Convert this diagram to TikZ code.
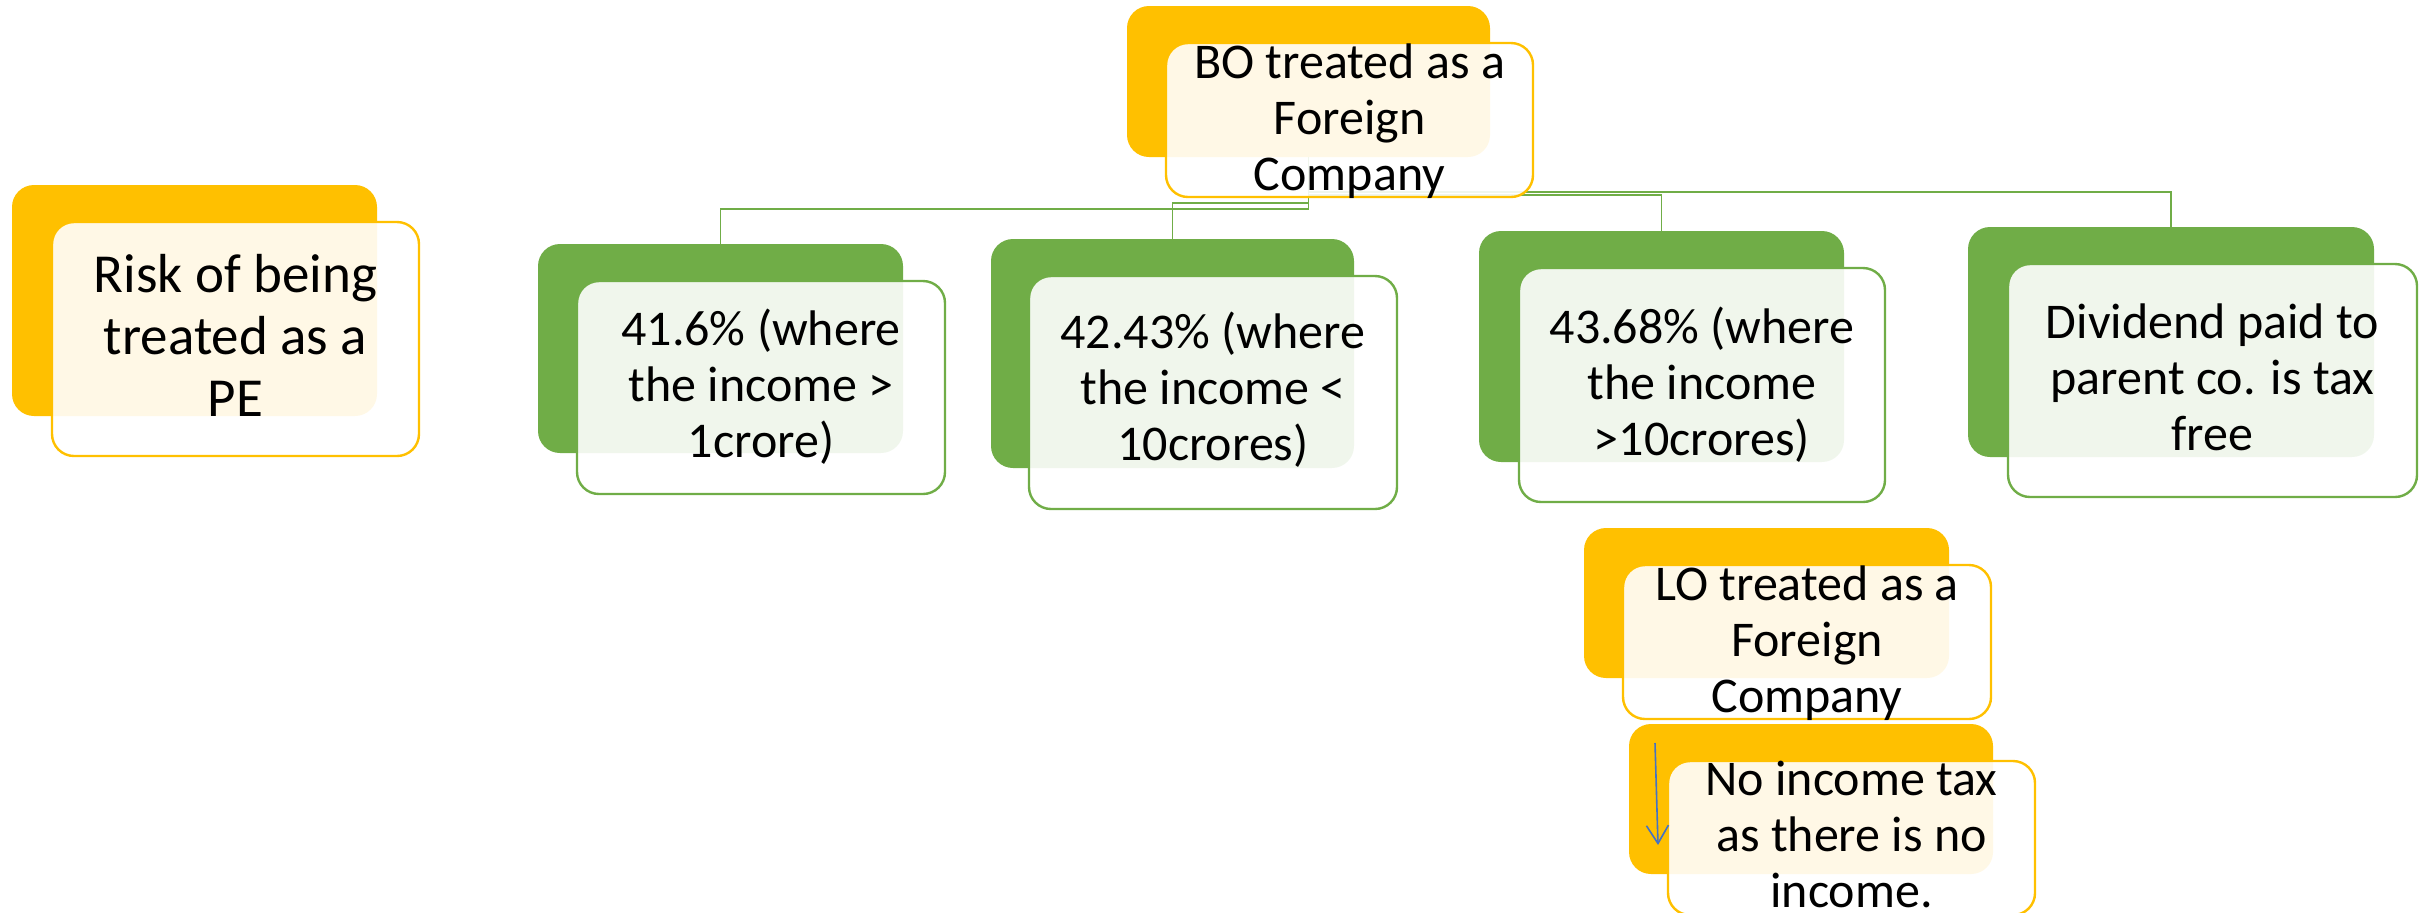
\documentclass[tikz,border=0pt]{standalone}
\usepackage{fontspec}
\setmainfont{Carlito}
\usetikzlibrary{arrows.meta}
\definecolor{gold}{HTML}{FFC000}
\definecolor{leaf}{HTML}{70AD47}
\definecolor{arrowblue}{HTML}{4472C4}
\newcommand{\lnA}{\rule[-6.25pt]{0pt}{26.25pt}}
\newcommand{\lnB}{\rule[-7pt]{0pt}{29pt}}
\newcommand{\lnZ}{\rule{0pt}{20pt}}
\begin{document}
\begin{tikzpicture}[x=0.5pt,y=-0.5pt,
  backbox/.style={fill=#1, draw=none, rounded corners=11pt, inner sep=0pt, outer sep=0pt},
  frontbox/.style={fill=white, fill opacity=0.9, draw=#1, draw opacity=1, line width=1.2pt, rounded corners=11pt, inner sep=0pt, outer sep=0pt},
  txt/.style={anchor=north, inner sep=0pt, align=center, text=black, font=\fontsize{25pt}{28pt}\selectfont},
  bigtxt/.style={anchor=north, inner sep=0pt, align=center, text=black, font=\fontsize{27.5pt}{31pt}\selectfont},
  link/.style={draw=leaf, line width=0.9pt}]
\useasboundingbox (0,0) rectangle (2428,912);

% back boxes
\node[backbox=gold, minimum width=182.5pt, minimum height=115.5pt] (riskB) at (194.5,300.5) {};
\node[backbox=gold, minimum width=181.5pt, minimum height=75.5pt] (boB) at (1308.5,81.5) {};
\node[backbox=leaf, minimum width=182.5pt, minimum height=104.5pt] (oneB) at (720.5,348.5) {};
\node[backbox=leaf, minimum width=181.5pt, minimum height=114.5pt] (twoB) at (1172.5,353.5) {};
\node[backbox=leaf, minimum width=182.5pt, minimum height=115.5pt] (threeB) at (1661.5,346.5) {};
\node[backbox=leaf, minimum width=203pt, minimum height=115pt] (fourB) at (2171,342) {};
\node[backbox=gold, minimum width=182.5pt, minimum height=75pt] (loB) at (1766.5,603) {};
\node[backbox=gold, minimum width=182pt, minimum height=75pt] (niB) at (1811,799) {};

% connectors
\draw[link] (boB.south) -- ++(0,52) -| (oneB.north);
\draw[link] (boB.south) -- ++(0,46) -| (twoB.north);
\draw[link] (boB.south) -- ++(0,38) -| (threeB.north);
\draw[link] (boB.south) -- ++(0,35) -| (fourB.north);

% front boxes
\node[frontbox=gold, minimum width=183.5pt, minimum height=117pt] (riskF) at (235.5,339) {};
\node[frontbox=gold, minimum width=183.5pt, minimum height=77pt] (boF) at (1349.5,120) {};
\node[frontbox=leaf, minimum width=184pt, minimum height=106.5pt] (oneF) at (761,387.5) {};
\node[frontbox=leaf, minimum width=184pt, minimum height=116.5pt] (twoF) at (1213,392.5) {};
\node[frontbox=leaf, minimum width=183pt, minimum height=117pt] (threeF) at (1702,385) {};
\node[frontbox=leaf, minimum width=204.5pt, minimum height=116.5pt] (fourF) at (2212.5,380.5) {};
\node[frontbox=gold, minimum width=184pt, minimum height=77pt] (loF) at (1807,642) {};
\node[frontbox=gold, minimum width=183.5pt, minimum height=77pt] (niF) at (1851.5,838) {};

% arrow
\coordinate (arrS) at (1655,743);
\coordinate (arrE) at (1658,845);
\draw[arrowblue, line width=0.8pt, -{Straight Barb[length=9pt,width=11pt]}] (arrS) -- (arrE);

% texts
\node[bigtxt] (riskT) at (235.5,248) {\lnB Risk of being\\\lnB treated as a\\\lnB PE};
\node[txt] (boT) at (1349.5,38) {\lnA BO treated as a\\\lnA Foreign\\\lnA Company};
\node[txt] (oneT) at (761,305) {\lnA 41.6\% (where\\\lnA the income >\\\lnA 1crore)};
\node[txt] (twoT) at (1213,308) {\lnA 42.43\% (where\\\lnA the income <\\\lnA 10crores)};
\node[txt] (threeT) at (1702,303) {\lnA 43.68\% (where\\\lnA the income\\\lnA >10crores)};
\node[txt] (fourT) at (2212.5,298) {\lnA Dividend paid to\\\lnA parent co. is tax\\\lnA free};
\node[txt] (loT) at (1807,560) {\lnA LO treated as a\\\lnA Foreign\\\lnA Company};
\node[txt] (niT) at (1851.5,755) {\lnA No income tax\\\lnA as there is no\\\lnZ income.};
\end{tikzpicture}
\end{document}
